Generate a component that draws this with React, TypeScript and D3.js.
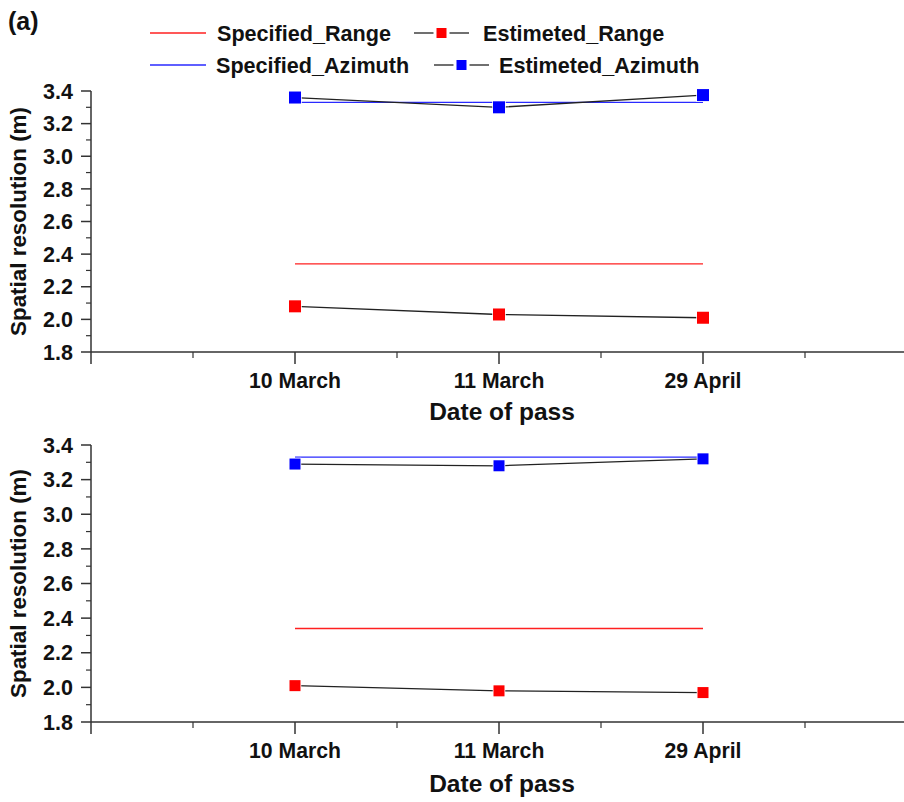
import React, { useEffect, useRef } from 'react';
import * as d3 from 'd3';

const dates = ['10 March', '11 March', '29 April'];

const topSpecifiedRange = [2.34, 2.34, 2.34];
const topSpecifiedAzimuth = [3.33, 3.33, 3.33];
const topEstimatedRange = [2.08, 2.03, 2.01];
const topEstimatedAzimuth = [3.36, 3.30, 3.375];

const botSpecifiedRange = [2.34, 2.34, 2.34];
const botSpecifiedAzimuth = [3.33, 3.33, 3.33];
const botEstimatedRange = [2.01, 1.98, 1.97];
const botEstimatedAzimuth = [3.29, 3.28, 3.32];

const yMajorTicks = [1.8, 2.0, 2.2, 2.4, 2.6, 2.8, 3.0, 3.2, 3.4];
const yMinorTicks = [1.9, 2.1, 2.3, 2.5, 2.7, 2.9, 3.1, 3.3];

const legendItems = ['Specified_Range', 'Estimeted_Range', 'Specified_Azimuth', 'Estimeted_Azimuth'];

const FONT = '"Liberation Sans", Arial, sans-serif';
const AXIS = '#333';

const App = () => {
    const svgRef = useRef<SVGSVGElement>(null);

    useEffect(() => {
        const svg = d3.select(svgRef.current);
        svg.selectAll('*').remove();

        const x = d3.scaleLinear().domain([-1, 3]).range([91, 907]);
        const xMajor = [-1, 0, 1, 2, 3];
        const xMinor = [-0.5, 0.5, 1.5, 2.5];

        const drawPanel = (top: number, bottom: number, spRange: number[], spAz: number[], estRange: number[], estAz: number[], markerSize: number, labelBase: number, titleBase: number) => {
            const y = d3.scaleLinear().domain([1.8, 3.4]).range([bottom, top]);
            const g = svg.append('g');

            // y axis
            g.append('line').attr('x1', x(-1)).attr('x2', x(-1)).attr('y1', y(1.8)).attr('y2', y(3.4))
                .attr('stroke', AXIS).attr('stroke-width', 1.5);
            g.selectAll('.ymaj').data(yMajorTicks).join('line')
                .attr('x1', x(-1) - 10).attr('x2', x(-1)).attr('y1', d => y(d)).attr('y2', d => y(d))
                .attr('stroke', AXIS).attr('stroke-width', 1.5);
            g.selectAll('.ymin').data(yMinorTicks).join('line')
                .attr('x1', x(-1) - 5).attr('x2', x(-1)).attr('y1', d => y(d)).attr('y2', d => y(d))
                .attr('stroke', AXIS).attr('stroke-width', 1.2);
            g.selectAll('.ylab').data(yMajorTicks).join('text')
                .attr('x', x(-1) - 18).attr('y', d => y(d)).attr('dy', '0.36em')
                .attr('text-anchor', 'end').attr('font-family', FONT).attr('font-weight', 'bold')
                .attr('font-size', 21.5).attr('fill', '#111')
                .text(d => d3.format('.1f')(d));

            // x axis
            g.append('line').attr('x1', x(-1)).attr('x2', x(3)).attr('y1', bottom).attr('y2', bottom)
                .attr('stroke', AXIS).attr('stroke-width', 1.5);
            g.selectAll('.xmaj').data(xMajor).join('line')
                .attr('x1', d => x(d)).attr('x2', d => x(d)).attr('y1', bottom).attr('y2', bottom + 12)
                .attr('stroke', AXIS).attr('stroke-width', 1.5);
            g.selectAll('.xmin').data(xMinor).join('line')
                .attr('x1', d => x(d)).attr('x2', d => x(d)).attr('y1', bottom).attr('y2', bottom + 6)
                .attr('stroke', AXIS).attr('stroke-width', 1.2);
            g.selectAll('.xlab').data(dates).join('text')
                .attr('x', (d, i) => x(i)).attr('y', labelBase)
                .attr('text-anchor', 'middle').attr('font-family', FONT).attr('font-weight', 'bold')
                .attr('font-size', 21.2).attr('fill', '#111')
                .text(d => d);

            g.append('text').attr('x', 502).attr('y', titleBase)
                .attr('text-anchor', 'middle').attr('font-family', FONT).attr('font-weight', 'bold')
                .attr('font-size', 24.5).attr('fill', '#111').text('Date of pass');

            g.append('text')
                .attr('transform', `translate(26,${(top + bottom) / 2}) rotate(-90)`)
                .attr('text-anchor', 'middle').attr('font-family', FONT).attr('font-weight', 'bold')
                .attr('font-size', 22.4).attr('fill', '#111').text('Spatial resolution (m)');

            const line = d3.line<number>().x((d, i) => x(i)).y(d => y(d));

            g.append('path').attr('d', line(spRange)).attr('fill', 'none').attr('stroke', '#ff2020').attr('stroke-width', 1.4);
            g.append('path').attr('d', line(spAz)).attr('fill', 'none').attr('stroke', '#2a2aff').attr('stroke-width', 1.4);
            g.append('path').attr('d', line(estRange)).attr('fill', 'none').attr('stroke', '#222').attr('stroke-width', 1.3);
            g.append('path').attr('d', line(estAz)).attr('fill', 'none').attr('stroke', '#222').attr('stroke-width', 1.3);

            const marks = (vals: number[], color: string) => {
                g.selectAll(null).data(vals).join('rect')
                    .attr('x', (d, i) => x(i) - markerSize / 2).attr('y', d => y(d) - markerSize / 2)
                    .attr('width', markerSize).attr('height', markerSize)
                    .attr('fill', color).attr('stroke', '#fff').attr('stroke-width', 1.5)
                    .attr('paint-order', 'stroke');
            };
            marks(estRange, '#ff0000');
            marks(estAz, '#0000ff');
        };

        drawPanel(91, 352, topSpecifiedRange, topSpecifiedAzimuth, topEstimatedRange, topEstimatedAzimuth, 12, 388, 420);
        drawPanel(445, 722, botSpecifiedRange, botSpecifiedAzimuth, botEstimatedRange, botEstimatedAzimuth, 11, 758, 792);

        // panel label
        svg.append('text').attr('x', 8).attr('y', 30).attr('font-family', FONT).attr('font-weight', 'bold')
            .attr('font-size', 25).attr('fill', '#111').text('(a)');

        // legend
        const leg = svg.append('g');
        const legendSpec = [
            { name: legendItems[0], kind: 'line', color: '#ff2020', x0: 150, x1: 206, cy: 33, tx: 217, ty: 41 },
            { name: legendItems[1], kind: 'marker', color: '#ff0000', x0: 414, x1: 469, cy: 33, tx: 483, ty: 41 },
            { name: legendItems[2], kind: 'line', color: '#2a2aff', x0: 150, x1: 206, cy: 65, tx: 216, ty: 73 },
            { name: legendItems[3], kind: 'marker', color: '#0000ff', x0: 434, x1: 489, cy: 65, tx: 499, ty: 73 },
        ];
        legendSpec.forEach(it => {
            if (it.kind === 'line') {
                leg.append('line').attr('x1', it.x0).attr('x2', it.x1).attr('y1', it.cy).attr('y2', it.cy)
                    .attr('stroke', it.color).attr('stroke-width', 1.4);
            } else {
                const cx = (it.x0 + it.x1) / 2;
                leg.append('line').attr('x1', it.x0).attr('x2', cx - 8).attr('y1', it.cy).attr('y2', it.cy)
                    .attr('stroke', '#222').attr('stroke-width', 1.3);
                leg.append('line').attr('x1', cx + 8).attr('x2', it.x1).attr('y1', it.cy).attr('y2', it.cy)
                    .attr('stroke', '#222').attr('stroke-width', 1.3);
                leg.append('rect').attr('x', cx - 5).attr('y', it.cy - 5).attr('width', 10).attr('height', 10)
                    .attr('fill', it.color);
            }
            leg.append('text').attr('x', it.tx).attr('y', it.ty).attr('font-family', FONT).attr('font-weight', 'bold')
                .attr('font-size', 21.6).attr('fill', '#111').text(it.name);
        });
    }, []);

    return (
        <svg ref={svgRef} width={904} height={802}
            style={{ position: 'absolute', left: 0, top: 0, background: '#fff' }} />
    );
};

export default App;
